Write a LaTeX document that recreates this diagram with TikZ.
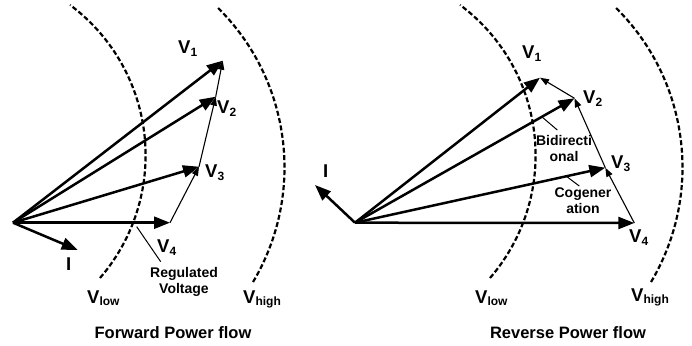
\documentclass[tikz,border=0pt]{standalone}
\usepackage{fontspec}
\setmainfont{Liberation Sans}
\usetikzlibrary{arrows.meta}
\newcommand\vlab[2][-3pt]{{\fontsize{18.5}{18.5}\selectfont V}{\fontsize{12}{12}\selectfont\raisebox{#1}{#2}}}
\begin{document}
\begin{tikzpicture}[x=1pt,y=1pt,font=\bfseries,
  vec/.style={line width=2.5pt,-{Triangle[length=16pt,width=12pt]}},
  chain/.style={line width=1.1pt,-{Triangle[length=9pt,width=6.5pt]}},
  bound/.style={line width=2.2pt,dash pattern=on 5pt off 2.5pt},
  lbl/.style={anchor=base west,inner sep=0pt},
  ilbl/.style={anchor=base west,inner sep=0pt,font=\fontsize{18.5}{18.5}\selectfont\bfseries},
  note/.style={font=\fontsize{14}{16}\selectfont\bfseries,align=center,inner sep=0pt,anchor=north},
  ttl/.style={font=\fontsize{16.5}{16.5}\selectfont\bfseries,anchor=base,inner sep=0pt},
  ptr/.style={line width=1pt}]
\useasboundingbox (0,0) rectangle (692,-345);

% ---------- Forward power flow ----------
\coordinate (O) at (13,-222.7);
\coordinate (A1) at (222.7,-60.7);
\coordinate (A2) at (215.7,-96.7);
\coordinate (A3) at (199,-166.7);
\coordinate (A4) at (170,-222.7);
\coordinate (AI) at (77.7,-250);

\draw[bound] (-42,-155.4) ++(-40.8:187.6) arc[start angle=-40.8,end angle=53.3,radius=187.6];
\draw[bound] (60,-167.4) ++(-30.7:224.5) arc[start angle=-30.7,end angle=45.6,radius=224.5];

\draw[vec] (O) -- (A1);
\draw[vec] (O) -- (A2);
\draw[vec] (O) -- (A3);
\draw[vec] (O) -- (A4);
\draw[vec] (O) -- (AI);
\draw[chain] (A4) -- (A3);
\draw[chain] (A3) -- (A2);
\draw[chain] (A2) -- (A1);

\node[lbl] (lA1) at (178,-53) {\vlab{1}};
\node[lbl] (lA2) at (217,-113) {\vlab{2}};
\node[lbl] (lA3) at (205,-177) {\vlab{3}};
\node[lbl] (lA4) at (157,-252) {\vlab{4}};
\node[ilbl] (lAI) at (66,-270) {I};
\node[lbl] (lAlow) at (87,-303) {\vlab[-2.5pt]{low}};
\node[lbl] (lAhigh) at (243,-303) {\vlab[-2.5pt]{high}};
\node[note] (reg) at (184,-267) {Regulated\\Voltage};
\coordinate (pR) at (136.7,-226.7);
\coordinate (pRe) at (160.7,-261.7);
\draw[ptr] (pR) -- (pRe);
\node[ttl] (t1) at (173,-338.3) {Forward Power flow};

% ---------- Reverse power flow ----------
\coordinate (Q) at (355,-222.7);
\coordinate (B1) at (540,-77.7);
\coordinate (B2) at (574.5,-98.3);
\coordinate (B3) at (605.3,-167.7);
\coordinate (B4) at (634.3,-223);
\coordinate (BI) at (315,-185);

\draw[bound] (348,-155.4) ++(-40.8:187.6) arc[start angle=-40.8,end angle=53.3,radius=187.6];
\draw[bound] (458,-167.4) ++(-30.7:224.5) arc[start angle=-30.7,end angle=45.6,radius=224.5];

\draw[vec] (Q) -- (B1);
\draw[vec] (Q) -- (B2);
\draw[vec] (Q) -- (B3);
\draw[vec] (Q) -- (B4);
\draw[vec] (Q) -- (BI);
\draw[chain] (B4) -- (B3);
\draw[chain] (B3) -- (B2);
\draw[chain] (B2) -- (B1);

\node[lbl] (lB1) at (522,-58) {\vlab{1}};
\node[lbl] (lB2) at (583,-103) {\vlab{2}};
\node[lbl] (lB3) at (611,-168) {\vlab{3}};
\node[lbl] (lB4) at (629,-242) {\vlab{4}};
\node[ilbl] (lBI) at (323,-177) {I};
\node[lbl] (lBlow) at (475,-303) {\vlab[-2.5pt]{low}};
\node[lbl] (lBhigh) at (631,-301) {\vlab[-2.5pt]{high}};
\node[note] (bid) at (564,-135) {Bidirecti\\onal};
\coordinate (pB) at (541.7,-116.7);
\coordinate (pBe) at (557.3,-130);
\draw[ptr] (pB) -- (pBe);
\node[note] (cog) at (583,-188) {Cogener\\ation};
\coordinate (pC) at (566,-176);
\coordinate (pCe) at (579.3,-186);
\draw[ptr] (pC) -- (pCe);
\node[ttl] (t2) at (568,-338.3) {Reverse Power flow};
\end{tikzpicture}
\end{document}
